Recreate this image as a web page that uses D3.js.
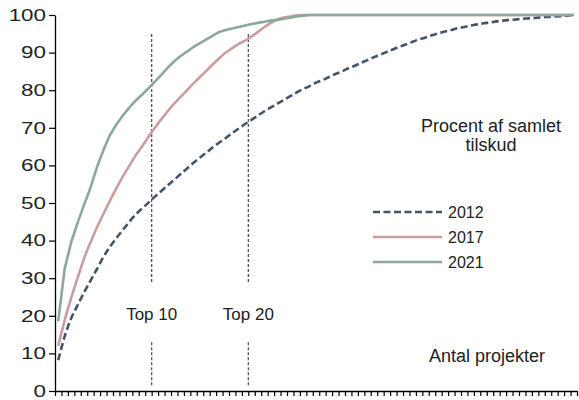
<!DOCTYPE html>
<html>
<head>
<meta charset="utf-8">
<script src="https://cdn.jsdelivr.net/npm/d3@7"></script>
<style>
  body { margin: 0; background: #fff; }
  text { font-family: "Liberation Sans", Arial, sans-serif; fill: #222; }
</style>
</head>
<body>
<div id="chart"></div>
<script>
// Cumulative share of total grant (percent) by number of projects
const years = ['2012', '2017', '2021'];
const values2012 = [8.2, 14.5, 19.3, 22.8, 26.2, 29.3, 32.4, 35.6, 38.3, 40.6,
    42.8, 44.9, 46.9, 48.5, 50.1, 51.7, 53.2, 54.7, 56.2, 57.7,
    59.2, 60.7, 62.1, 63.4, 64.8, 66.1, 67.3, 68.6, 69.8, 71.0,
    72.1, 73.3, 74.4, 75.4, 76.4, 77.4, 78.4, 79.4, 80.3, 81.1,
    82.0, 82.7, 83.5, 84.3, 85.0, 85.8, 86.5, 87.3, 88.0, 88.8,
    89.5, 90.2, 90.9, 91.6, 92.2, 92.9, 93.5, 94.0, 94.6, 95.1,
    95.6, 96.0, 96.5, 96.8, 97.2, 97.5, 97.8, 98.0, 98.3, 98.5,
    98.7, 98.8, 99.0, 99.1, 99.2, 99.4, 99.5, 99.6, 99.7, 99.8, 100];
const values2017 = [12, 18.8, 24.7, 30, 35.2, 39.5, 43.5, 47, 50.5, 53.8,
    57, 59.8, 62.6, 65, 67.6, 70, 72.3, 74.4, 76.4, 78.2,
    80, 81.8, 83.5, 85.2, 86.9, 88.5, 90, 91.2, 92.3, 93.2,
    94.3, 95.5, 96.8, 97.9, 98.8, 99.3, 99.6, 99.9, 100, 100,
    100, 100, 100, 100, 100, 100, 100, 100, 100, 100,
    100, 100, 100, 100, 100, 100, 100, 100, 100, 100,
    100, 100, 100, 100, 100, 100, 100, 100, 100, 100,
    100, 100, 100, 100, 100, 100, 100, 100, 100, 100, 100];
const values2021 = [18.6, 32.5, 39.5, 44.7, 49.5, 54, 59.5, 64, 68, 70.8,
    73.2, 75.3, 77.2, 78.8, 80.5, 82.3, 84.1, 86, 87.7, 89.1,
    90.3, 91.5, 92.5, 93.5, 94.5, 95.5, 96, 96.4, 96.8, 97.2,
    97.6, 97.9, 98.2, 98.5, 98.7, 99.0, 99.3, 99.6, 99.8, 100,
    100, 100, 100, 100, 100, 100, 100, 100, 100, 100,
    100, 100, 100, 100, 100, 100, 100, 100, 100, 100,
    100, 100, 100, 100, 100, 100, 100, 100, 100, 100,
    100, 100, 100, 100, 100, 100, 100, 100, 100, 100, 100];
const yTicks = [0, 10, 20, 30, 40, 50, 60, 70, 80, 90, 100];
const markerPositions = [15, 30];
const markerLabels = ['Top 10', 'Top 20'];

const drawChart = () => {
    const width = 579;
    const height = 400;
    const margin = { top: 15, right: 2, bottom: 9, left: 55 };
    const nProjects = values2012.length;
    const labelStretch = 1.4;

    const svg = d3.select('#chart')
        .append('svg')
        .attr('width', width)
        .attr('height', height);

    const x = d3.scaleLinear()
        .domain([0, nProjects])
        .range([margin.left, width - margin.right]);
    const y = d3.scaleLinear()
        .domain([0, 100])
        .range([height - margin.bottom, margin.top]);

    // y axis
    const yAxis = svg.append('g')
        .attr('transform', `translate(${margin.left},0)`)
        .call(d3.axisLeft(y).tickValues(yTicks).tickSize(6).tickSizeOuter(0));
    yAxis.select('.domain').attr('stroke', '#000').attr('stroke-width', 1.3);
    yAxis.selectAll('.tick line').attr('stroke', '#000').attr('stroke-width', 1.2);
    yAxis.selectAll('.tick text')
        .attr('font-size', 16)
        .attr('fill', '#111')
        .attr('font-family', '"Liberation Sans", Arial, sans-serif')
        .attr('x', -9 / labelStretch)
        .attr('dy', '0.33em')
        .attr('transform', `scale(${labelStretch},1)`);

    // x axis: one tick per project boundary, no labels
    const xAxis = svg.append('g')
        .attr('transform', `translate(0,${y(0)})`)
        .call(d3.axisBottom(x).tickValues(d3.range(0, nProjects + 1)).tickSize(5).tickSizeOuter(0).tickFormat(''));
    xAxis.select('.domain').attr('stroke', '#000').attr('stroke-width', 1.3);
    xAxis.selectAll('.tick line').attr('stroke', '#000').attr('stroke-width', 1.2);

    // Top 10 / Top 20 markers
    markerPositions.forEach((pos, k) => {
        const g = svg.append('g');
        [[29, 95], [1.5, 13.2]].forEach(seg => {
            g.append('line')
                .attr('x1', x(pos)).attr('x2', x(pos))
                .attr('y1', y(seg[0])).attr('y2', y(seg[1]))
                .attr('stroke', '#555')
                .attr('stroke-width', 1.3)
                .attr('stroke-dasharray', '3,2');
        });
        g.append('text')
            .attr('x', x(pos))
            .attr('y', y(19))
            .attr('text-anchor', 'middle')
            .attr('font-size', 17)
            .text(markerLabels[k]);
    });

    const series = [
        { name: years[0], values: values2012, color: '#44546A', dash: '7,3.5', curve: d3.curveMonotoneX },
        { name: years[1], values: values2017, color: '#CB9D9E', dash: null, curve: d3.curveMonotoneX },
        { name: years[2], values: values2021, color: '#8BA898', dash: null, curve: d3.curveLinear }
    ];

    series.forEach(s => {
        const line = d3.line()
            .x((d, i) => x(i + 0.5))
            .y(d => y(d))
            .curve(s.curve);
        svg.append('path')
            .datum(s.values)
            .attr('d', line)
            .attr('fill', 'none')
            .attr('stroke', s.color)
            .attr('stroke-width', 2.6)
            .attr('stroke-linejoin', 'round')
            .attr('stroke-dasharray', s.dash);
    });

    // legend
    const legend = svg.append('g').attr('transform', 'translate(373,212)');
    series.forEach((s, k) => {
        legend.append('line')
            .attr('x1', 0).attr('x2', 69)
            .attr('y1', k * 25).attr('y2', k * 25)
            .attr('stroke', s.color)
            .attr('stroke-width', 2.6)
            .attr('stroke-dasharray', s.dash);
        legend.append('text')
            .attr('x', 75)
            .attr('y', k * 25)
            .attr('dy', '0.35em')
            .attr('font-size', 16)
            .text(s.name);
    });

    // annotations
    svg.append('text')
        .attr('x', 491)
        .attr('y', 132)
        .attr('text-anchor', 'middle')
        .attr('font-size', 18)
        .text('Procent af samlet');
    svg.append('text')
        .attr('x', 491)
        .attr('y', 150.5)
        .attr('text-anchor', 'middle')
        .attr('font-size', 18)
        .text('tilskud');
    svg.append('text')
        .attr('x', 487)
        .attr('y', 362)
        .attr('text-anchor', 'middle')
        .attr('font-size', 18)
        .text('Antal projekter');
};

drawChart();
</script>
</body>
</html>
